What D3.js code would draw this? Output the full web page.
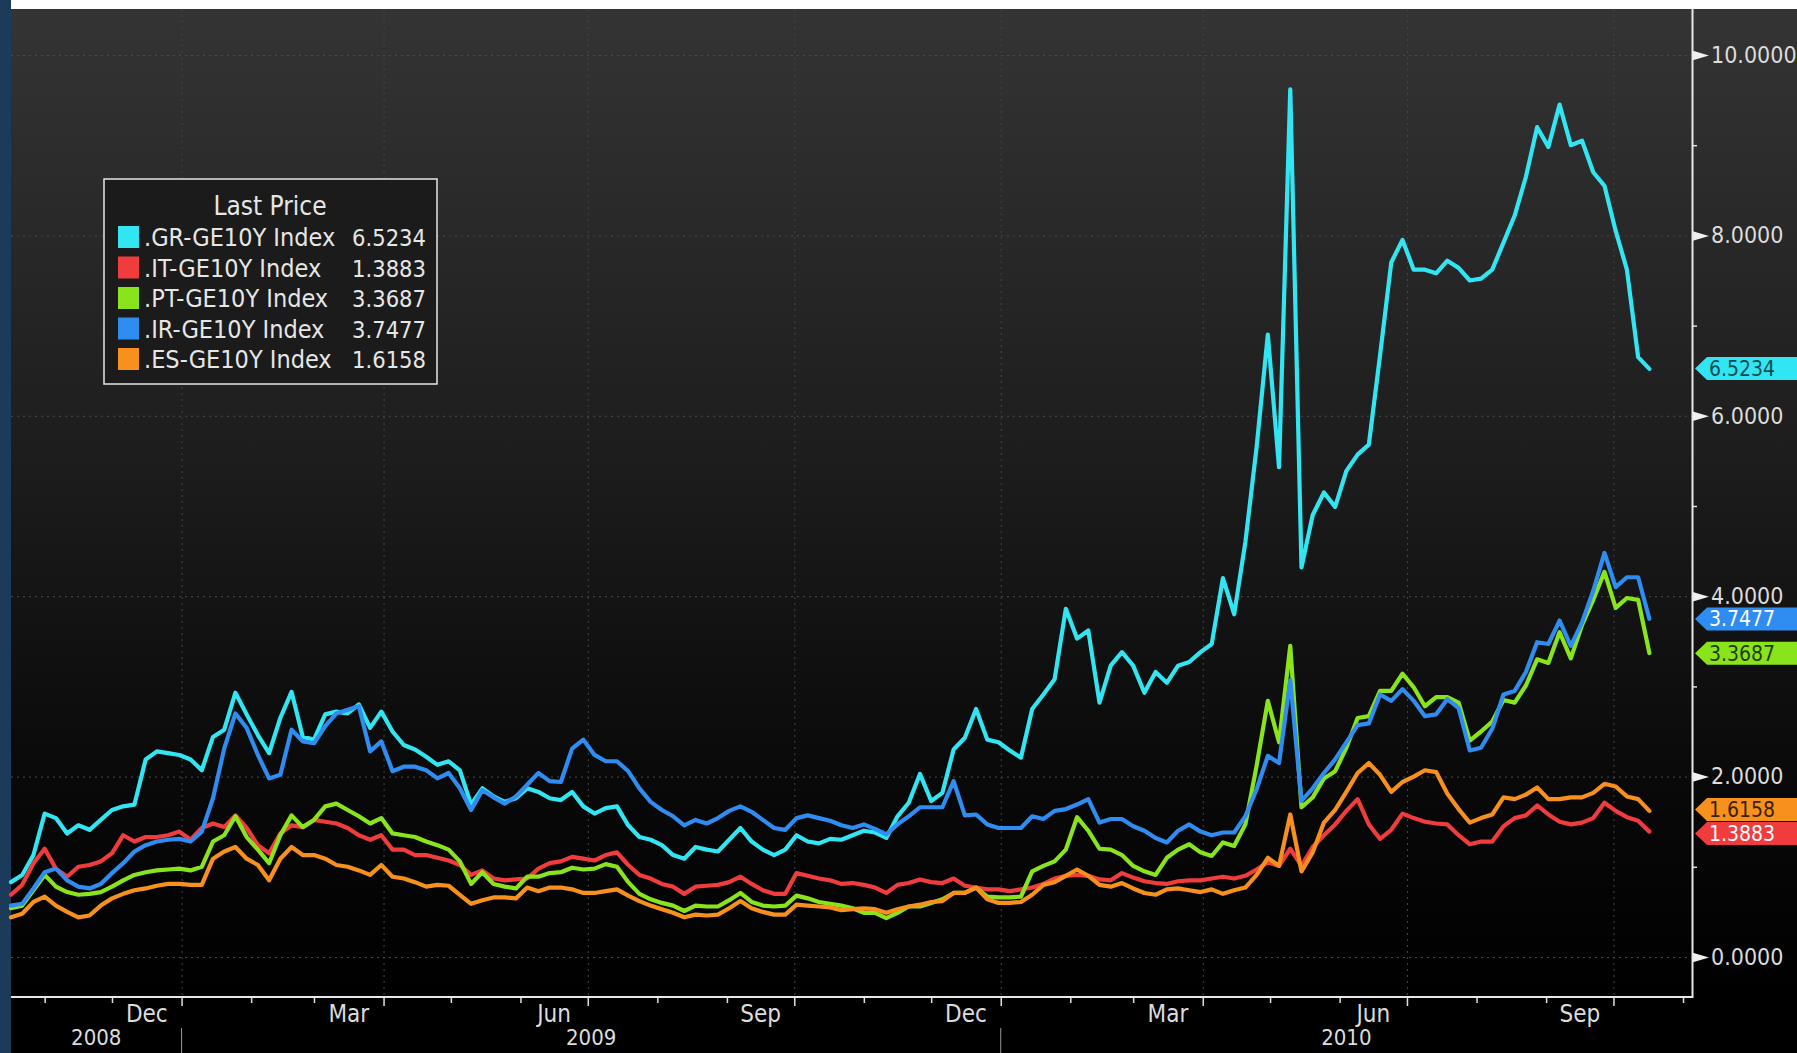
<!DOCTYPE html>
<html>
<head>
<meta charset="utf-8">
<script src="https://cdn.jsdelivr.net/npm/d3@7"></script>
<style>
    html, body { margin: 0; padding: 0; background: #000; overflow: hidden; }
    svg { display: block; }
    text { font-family: "DejaVu Sans Condensed", "Liberation Sans Narrow", "DejaVu Sans", sans-serif; }
</style>
</head>
<body>
<svg width="1797" height="1053"></svg>
<script>
//	spread data, one reading every 5 days from 17 Oct 2008
var startDate = new Date(2008, 9, 17),
        stepDays = 5;

var grValues = [0.83, 0.91, 1.13, 1.59, 1.54, 1.37, 1.46, 1.41, 1.52, 1.63, 1.67, 1.69, 2.19, 2.28, 2.26, 2.24, 2.19, 2.07, 2.44, 2.52,
    2.93, 2.69, 2.46, 2.26, 2.65, 2.94, 2.44, 2.41, 2.69, 2.72, 2.70, 2.80, 2.54, 2.72, 2.50, 2.35, 2.30, 2.22, 2.13,
    2.17, 2.07, 1.69, 1.87, 1.78, 1.72, 1.76, 1.87, 1.83, 1.76, 1.74, 1.83, 1.67, 1.59, 1.65, 1.67, 1.46, 1.33, 1.30, 1.24,
    1.13, 1.09, 1.22, 1.19, 1.17, 1.30, 1.43, 1.28, 1.19, 1.13, 1.19, 1.35, 1.28, 1.26, 1.31, 1.30, 1.35,
    1.40, 1.38, 1.32, 1.56, 1.71, 2.03, 1.73, 1.82, 2.30, 2.43, 2.75, 2.41, 2.38, 2.29, 2.21, 2.75, 2.91, 3.08, 3.86, 3.53,
    3.62, 2.82, 3.23, 3.38, 3.23, 2.93, 3.16, 3.04, 3.23, 3.27, 3.38, 3.47, 4.20, 3.80, 4.60, 5.65,
    6.90, 5.43, 9.62, 4.32, 4.90, 5.15, 4.99, 5.39, 5.57, 5.68, 6.67, 7.70, 7.95, 7.62, 7.62, 7.58, 7.72, 7.64, 7.50, 7.52,
    7.62, 7.92, 8.22, 8.65, 9.20, 8.98, 9.45, 9.00, 9.05, 8.70, 8.55, 8.05, 7.62, 6.65, 6.52];
var itValues = [0.69, 0.80, 1.04, 1.20, 0.98, 0.89, 1.00, 1.02, 1.06, 1.15, 1.35, 1.28, 1.33, 1.33, 1.35, 1.39, 1.30, 1.43, 1.48, 1.44,
    1.57, 1.43, 1.24, 1.15, 1.37, 1.46, 1.44, 1.52, 1.50, 1.48, 1.43, 1.35, 1.30, 1.35, 1.19, 1.19, 1.13, 1.13, 1.10,
    1.07, 1.02, 0.91, 0.96, 0.87, 0.85, 0.86, 0.87, 0.98, 1.04, 1.06, 1.11, 1.09, 1.07, 1.13, 1.16, 1.02, 0.91, 0.87, 0.81,
    0.78, 0.70, 0.78, 0.79, 0.80, 0.83, 0.89, 0.81, 0.74, 0.70, 0.70, 0.93, 0.90, 0.87, 0.85, 0.81, 0.82,
    0.80, 0.77, 0.71, 0.80, 0.82, 0.86, 0.83, 0.82, 0.87, 0.79, 0.77, 0.75, 0.75, 0.73, 0.75, 0.77, 0.81, 0.87, 0.90, 0.91,
    0.90, 0.86, 0.85, 0.93, 0.88, 0.84, 0.82, 0.81, 0.84, 0.85, 0.85, 0.87, 0.89, 0.87, 0.90, 0.97,
    1.05, 1.01, 1.20, 1.01, 1.22, 1.35, 1.47, 1.62, 1.75, 1.47, 1.31, 1.41, 1.59, 1.54, 1.50, 1.48, 1.47, 1.35, 1.25, 1.28,
    1.28, 1.45, 1.54, 1.57, 1.68, 1.58, 1.50, 1.47, 1.49, 1.54, 1.71, 1.62, 1.55, 1.51, 1.39];
var ptValues = [0.54, 0.57, 0.74, 0.91, 0.78, 0.72, 0.69, 0.70, 0.72, 0.78, 0.85, 0.91, 0.94, 0.96, 0.97, 0.98, 0.96, 1.00, 1.28, 1.35,
    1.56, 1.33, 1.19, 1.04, 1.35, 1.57, 1.44, 1.52, 1.67, 1.70, 1.63, 1.56, 1.48, 1.54, 1.37, 1.35, 1.33, 1.28, 1.24,
    1.19, 1.06, 0.81, 0.94, 0.81, 0.78, 0.76, 0.89, 0.89, 0.93, 0.94, 0.99, 0.97, 0.98, 1.03, 1.00, 0.83, 0.70, 0.64, 0.60,
    0.57, 0.51, 0.57, 0.56, 0.56, 0.63, 0.71, 0.61, 0.57, 0.56, 0.57, 0.68, 0.65, 0.61, 0.59, 0.57, 0.54,
    0.49, 0.49, 0.43, 0.49, 0.56, 0.56, 0.60, 0.64, 0.71, 0.71, 0.77, 0.67, 0.66, 0.66, 0.67, 0.95, 1.01, 1.06, 1.19, 1.55,
    1.40, 1.20, 1.19, 1.13, 1.01, 0.95, 0.91, 1.10, 1.19, 1.25, 1.16, 1.12, 1.27, 1.23, 1.47, 2.12,
    2.84, 2.38, 3.45, 1.66, 1.77, 1.98, 2.06, 2.32, 2.65, 2.67, 2.95, 2.95, 3.14, 2.99, 2.78, 2.88, 2.88, 2.82, 2.40, 2.50,
    2.61, 2.85, 2.82, 3.01, 3.30, 3.26, 3.60, 3.31, 3.68, 3.96, 4.27, 3.87, 3.98, 3.96, 3.37];
var irValues = [0.57, 0.59, 0.76, 0.94, 0.98, 0.85, 0.78, 0.76, 0.81, 0.93, 1.04, 1.17, 1.24, 1.28, 1.30, 1.31, 1.28, 1.39, 1.76, 2.31,
    2.70, 2.54, 2.24, 1.98, 2.02, 2.52, 2.39, 2.37, 2.56, 2.70, 2.74, 2.78, 2.28, 2.39, 2.06, 2.11, 2.11, 2.07, 1.98,
    2.04, 1.87, 1.63, 1.85, 1.77, 1.70, 1.78, 1.91, 2.04, 1.95, 1.94, 2.31, 2.41, 2.24, 2.17, 2.17, 2.06, 1.87, 1.72, 1.63,
    1.56, 1.46, 1.52, 1.48, 1.54, 1.62, 1.67, 1.61, 1.52, 1.43, 1.41, 1.54, 1.57, 1.54, 1.51, 1.46, 1.43,
    1.47, 1.42, 1.36, 1.47, 1.56, 1.66, 1.66, 1.66, 1.95, 1.57, 1.58, 1.47, 1.43, 1.43, 1.43, 1.56, 1.53, 1.62, 1.64, 1.69,
    1.75, 1.49, 1.53, 1.53, 1.45, 1.40, 1.32, 1.27, 1.40, 1.47, 1.39, 1.35, 1.38, 1.38, 1.56, 1.86,
    2.23, 2.15, 3.07, 1.73, 1.87, 2.04, 2.19, 2.38, 2.57, 2.59, 2.91, 2.84, 2.97, 2.84, 2.67, 2.69, 2.86, 2.76, 2.29, 2.32,
    2.53, 2.91, 2.95, 3.16, 3.49, 3.47, 3.73, 3.45, 3.71, 4.06, 4.48, 4.10, 4.21, 4.21, 3.75];
var esValues = [0.44, 0.48, 0.61, 0.67, 0.57, 0.50, 0.44, 0.46, 0.57, 0.65, 0.70, 0.74, 0.76, 0.79, 0.81, 0.81, 0.80, 0.80, 1.09, 1.17,
    1.22, 1.09, 1.02, 0.85, 1.09, 1.22, 1.13, 1.13, 1.09, 1.02, 1.00, 0.96, 0.91, 1.02, 0.89, 0.87, 0.83, 0.78, 0.80,
    0.79, 0.69, 0.59, 0.63, 0.66, 0.66, 0.65, 0.77, 0.73, 0.77, 0.77, 0.75, 0.71, 0.71, 0.73, 0.75, 0.68, 0.62, 0.57, 0.53,
    0.49, 0.44, 0.47, 0.46, 0.47, 0.54, 0.62, 0.54, 0.50, 0.47, 0.47, 0.58, 0.57, 0.56, 0.55, 0.52, 0.53,
    0.54, 0.53, 0.49, 0.53, 0.56, 0.58, 0.61, 0.62, 0.71, 0.71, 0.77, 0.64, 0.60, 0.60, 0.61, 0.69, 0.80, 0.83, 0.90, 0.97,
    0.90, 0.80, 0.78, 0.82, 0.76, 0.71, 0.69, 0.75, 0.76, 0.74, 0.72, 0.75, 0.70, 0.74, 0.77, 0.91,
    1.10, 1.01, 1.58, 0.95, 1.16, 1.49, 1.63, 1.83, 2.04, 2.15, 2.02, 1.83, 1.94, 2.00, 2.07, 2.05, 1.81, 1.64, 1.49, 1.54,
    1.58, 1.77, 1.75, 1.80, 1.88, 1.75, 1.75, 1.77, 1.77, 1.82, 1.92, 1.89, 1.78, 1.75, 1.62];

//	legend / tag texts
var seriesNames = [".GR-GE10Y Index", ".IT-GE10Y Index", ".PT-GE10Y Index", ".IR-GE10Y Index", ".ES-GE10Y Index"];
var lastPrices = [6.5234, 1.3883, 3.3687, 3.7477, 1.6158];
var seriesColors = ["#31e6f2", "#f03c3c", "#8ae41c", "#2f8cf0", "#f7901c"];
var tagTextColors = ["#0b4d52", "#ffffff", "#1f3d05", "#ffffff", "#3a2000"];
var legendTitle = "Last Price";
var yTicks = [0, 2, 4, 6, 8, 10],
        yMinorTicks = [1, 3, 5, 7, 9];
var monthLabels = ["Dec", "Mar", "Jun", "Sep"];
var yearLabels = ["2008", "2009", "2010"];

//	svg selection and sizing
var svg = d3.select("svg"),
        width = +svg.attr("width"),
        height = +svg.attr("height");
var plotLeft = 11, plotRight = 1692, plotTop = 9, axisY = 997;

var x = d3.scaleTime()
        .domain([new Date(2008, 9, 17), new Date(2010, 10, 5)])
        .range([plotLeft, plotRight]);
var y = d3.scaleLinear()
        .domain([0, 10])
        .range([957, 55]);

//	background
var defs = svg.append("defs");
var grad = defs.append("linearGradient")
        .attr("id", "bg").attr("x1", 0).attr("y1", 0).attr("x2", 0).attr("y2", 1);
grad.append("stop").attr("offset", "0").attr("stop-color", "#343434");
grad.append("stop").attr("offset", "0.45").attr("stop-color", "#1d1d1d");
grad.append("stop").attr("offset", "0.8").attr("stop-color", "#080808");
grad.append("stop").attr("offset", "1").attr("stop-color", "#000000");

svg.append("rect").attr("width", width).attr("height", height).attr("fill", "#000");
svg.append("rect")
        .attr("x", plotLeft).attr("y", plotTop)
        .attr("width", width - plotLeft).attr("height", axisY - plotTop)
        .attr("fill", "url(#bg)");
svg.append("rect").attr("x", plotLeft).attr("y", 0).attr("width", width - plotLeft).attr("height", plotTop).attr("fill", "#ffffff");
svg.append("rect").attr("x", 0).attr("y", 0).attr("width", plotLeft).attr("height", height).attr("fill", "#1c3a59");

//	grid
var quarters = d3.timeMonth.every(3).range(x.domain()[0], x.domain()[1]);
var months = d3.timeMonth.range(x.domain()[0], x.domain()[1]);

svg.append("g").selectAll("line").data(yTicks).enter().append("line")
        .attr("x1", plotLeft).attr("x2", plotRight)
        .attr("y1", function (d) { return y(d) + 0.5; })
        .attr("y2", function (d) { return y(d) + 0.5; })
        .attr("stroke", "#4a4a4a").attr("stroke-dasharray", "2,4");
svg.append("g").selectAll("line").data(quarters).enter().append("line")
        .attr("x1", function (d) { return x(d) + 0.5; })
        .attr("x2", function (d) { return x(d) + 0.5; })
        .attr("y1", plotTop).attr("y2", axisY)
        .attr("stroke", "#444").attr("stroke-dasharray", "2,4");

//	series
var dates = grValues.map(function (v, i) {
    return d3.timeDay.offset(startDate, i * stepDays);
});
var allValues = [grValues, itValues, ptValues, irValues, esValues];
var series = allValues.map(function (vals, i) {
    return {
        name: seriesNames[i],
        color: seriesColors[i],
        last: lastPrices[i],
        textColor: tagTextColors[i],
        points: vals.map(function (v, j) { return {date: dates[j], value: v}; })
    };
});

var line = d3.line()
        .x(function (d) { return x(d.date); })
        .y(function (d) { return y(d.value); });

svg.append("g").selectAll("path").data(series).enter().append("path")
        .attr("d", function (d) { return line(d.points); })
        .attr("fill", "none")
        .attr("stroke", function (d) { return d.color; })
        .attr("stroke-width", 4.2)
        .attr("stroke-linejoin", "round")
        .attr("stroke-linecap", "round");

//	right axis
var yAxis = svg.append("g")
        .attr("transform", "translate(" + plotRight + ",0)")
        .call(d3.axisRight(y).tickValues(yTicks).tickSize(0).tickPadding(19)
                .tickFormat(d3.format(".4f")));
yAxis.select(".domain").remove();
yAxis.selectAll("text").attr("fill", "#dcdcdc").style("font-size", "23px");
yAxis.selectAll(".tick").append("path")
        .attr("d", "M0,-5L0,5L17,0Z")
        .attr("fill", "#f0f0f0");

var yMinor = svg.append("g")
        .attr("transform", "translate(" + plotRight + ",0)")
        .call(d3.axisRight(y).tickValues(yMinorTicks).tickSize(5).tickFormat(""));
yMinor.select(".domain").remove();
yMinor.selectAll("line").attr("stroke", "#e0e0e0").attr("stroke-width", 1.5);

svg.append("line")
        .attr("x1", plotRight + 0.5).attr("x2", plotRight + 0.5)
        .attr("y1", plotTop).attr("y2", axisY + 1)
        .attr("stroke", "#e8e8e8").attr("stroke-width", 2);

//	bottom axis
var xAxis = svg.append("g")
        .attr("transform", "translate(0," + axisY + ")")
        .call(d3.axisBottom(x).tickValues(months).tickSize(7).tickFormat(""));
xAxis.select(".domain").remove();
xAxis.selectAll("line")
        .attr("stroke", "#e0e0e0").attr("stroke-width", 1.5)
        .attr("y2", function (d) { return d.getMonth() % 3 === 0 ? 9 : 6; });
svg.append("line")
        .attr("x1", plotLeft).attr("x2", plotRight + 1)
        .attr("y1", axisY).attr("y2", axisY)
        .attr("stroke", "#e8e8e8").attr("stroke-width", 2);

//	month labels centred inside the month (Dec, Mar, Jun, Sep)
var labelMonths = months.filter(function (m) { return m.getMonth() % 3 === 2; });
svg.append("g").selectAll("text").data(labelMonths).enter().append("text")
        .attr("x", function (d) { return (x(d) + x(d3.timeMonth.offset(d, 1))) / 2; })
        .attr("y", 1022)
        .attr("text-anchor", "middle")
        .attr("fill", "#dcdcdc")
        .style("font-size", "24px")
        .text(function (d) { return monthLabels[((d.getMonth() + 1) / 3) % 4]; });

//	years
var yearStarts = [x.domain()[0], new Date(2009, 0, 1), new Date(2010, 0, 1), x.domain()[1]];
svg.append("g").selectAll("text").data(yearLabels).enter().append("text")
        .attr("x", function (d, i) { return (x(yearStarts[i]) + x(yearStarts[i + 1])) / 2; })
        .attr("y", 1045)
        .attr("text-anchor", "middle")
        .attr("fill", "#dcdcdc")
        .style("font-size", "22px")
        .text(function (d) { return d; });
svg.append("g").selectAll("line").data(yearStarts.slice(1, 3)).enter().append("line")
        .attr("x1", function (d) { return x(d); })
        .attr("x2", function (d) { return x(d); })
        .attr("y1", 1028).attr("y2", height)
        .attr("stroke", "#9a9a9a").attr("stroke-width", 1);

//	last price tags, lowest drawn last, nudged apart when they collide
var tagH = 23, minGap = 24;
var tagData = series.slice().sort(function (a, b) { return b.last - a.last; });
tagData.forEach(function (d) { d.ty = y(d.last); });
for (var i = 1; i < tagData.length; i++) {
    var gap = tagData[i].ty - tagData[i - 1].ty;
    if (gap < minGap) {
        tagData[i - 1].ty -= (minGap - gap) / 2;
        tagData[i].ty += (minGap - gap) / 2;
    }
}
var tags = svg.append("g").selectAll("g")
        .data(tagData)
        .enter().append("g")
        .attr("transform", function (d) { return "translate(0," + d.ty + ")"; });
tags.append("path")
        .attr("d", "M" + (plotRight + 3) + ",0L" + (plotRight + 15) + "," + (-tagH / 2) + "L" + width + "," + (-tagH / 2)
                + "L" + width + "," + (tagH / 2) + "L" + (plotRight + 15) + "," + (tagH / 2) + "Z")
        .attr("fill", function (d) { return d.color; });
tags.append("text")
        .attr("x", plotRight + 17)
        .attr("y", 7.5)
        .attr("fill", function (d) { return d.textColor; })
        .style("font-size", "21px")
        .text(function (d) { return d3.format(".4f")(d.last); });

//	legend
var legend = svg.append("g").attr("transform", "translate(104,179)");
legend.append("rect")
        .attr("width", 333).attr("height", 205)
        .attr("fill", "#1b1b1b")
        .attr("stroke", "#e6e6e6").attr("stroke-width", 1.5);
legend.append("text")
        .attr("x", 166).attr("y", 36)
        .attr("text-anchor", "middle")
        .attr("fill", "#e6e6e6")
        .style("font-size", "26px")
        .text(legendTitle);
var rows = legend.selectAll(".row").data(series).enter().append("g")
        .attr("class", "row")
        .attr("transform", function (d, i) { return "translate(0," + (58 + i * 30.5) + ")"; });
rows.append("rect")
        .attr("x", 14).attr("y", -11).attr("width", 21).attr("height", 22)
        .attr("fill", function (d) { return d.color; });
rows.append("text")
        .attr("x", 40).attr("y", 9)
        .attr("fill", "#e6e6e6")
        .style("font-size", "25px")
        .text(function (d) { return d.name; });
rows.append("text")
        .attr("x", 322).attr("y", 9)
        .attr("text-anchor", "end")
        .attr("fill", "#e6e6e6")
        .style("font-size", "23.5px")
        .text(function (d) { return d3.format(".4f")(d.last); });
</script>
</body>
</html>
